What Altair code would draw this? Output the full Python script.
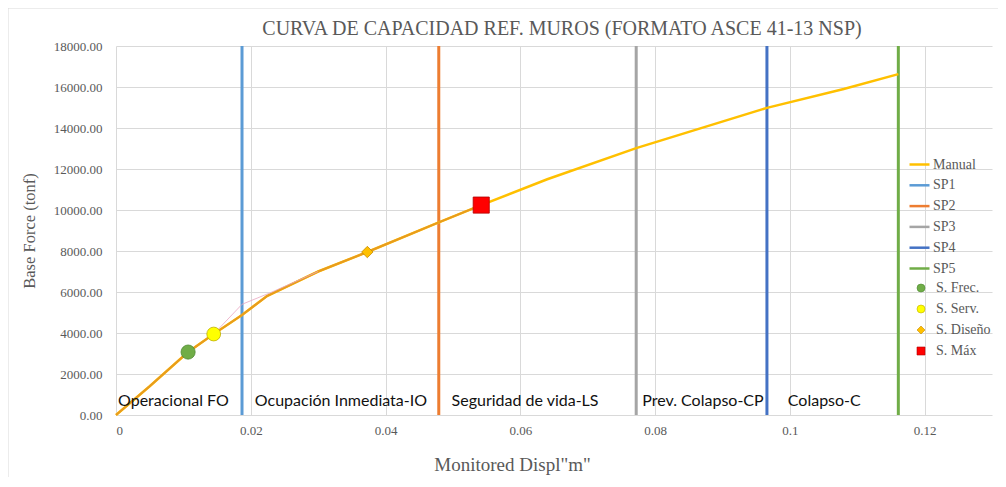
import altair as alt
import pandas as pd

# ---- data ----
manual_x = [0, 0.005, 0.0107, 0.0145, 0.0187, 0.0224, 0.0300, 0.0373, 0.0479, 0.0542, 0.0640, 0.0772, 0.0966, 0.1080, 0.1161]
manual_y = [0, 1400, 3070, 3950, 4880, 5800, 7000, 7950, 9400, 10240, 11500, 13020, 14980, 15900, 16630]
n_orange = 10  # orange overlay runs from the origin up to the S. Máx point

pink_x = [0.0145, 0.0187, 0.0228, 0.0300]
pink_y = [3950, 5400, 5950, 7000]

sp_names = ["SP1", "SP2", "SP3", "SP4", "SP5"]
sp_x = [0.0187, 0.0479, 0.0772, 0.0966, 0.1161]

pt_names = ["S. Frec.", "S. Serv.", "S. Diseño", "S. Máx"]
pt_x = [0.0107, 0.0145, 0.0373, 0.0542]
pt_y = [3070, 3950, 7950, 10240]

zone_names = ["Operacional FO", "Ocupación Inmediata-IO", "Seguridad de vida-LS", "Prev. Colapso-CP", "Colapso-C"]
zone_x = [0.0003, 0.0206, 0.0498, 0.0781, 0.0997]
zone_y = [700, 700, 700, 700, 700]

x_ticks = [0, 0.02, 0.04, 0.06, 0.08, 0.10, 0.12]
y_ticks = [0, 2000, 4000, 6000, 8000, 10000, 12000, 14000, 16000, 18000]

line_domain = ["Manual"] + sp_names
line_colors = ["#FFC000", "#5B9BD5", "#ED7D31", "#A5A5A5", "#4472C4", "#70AD47"]
pt_fill = ["#70AD47", "#FFFF00", "#FFC000", "#FF0000"]
pt_stroke = ["#4E8A32", "#BFAE00", "#C58A00", "#B00000"]
pt_shape = ["circle", "circle", "diamond", "square"]
pt_size = [200, 190, 130, 260]

# ---- tables ----
manual_df = pd.DataFrame({"x": manual_x, "y": manual_y, "serie": "Manual"})
orange_df = pd.DataFrame({"x": manual_x[:n_orange], "y": manual_y[:n_orange]})
pink_df = pd.DataFrame({"x": pink_x, "y": pink_y})
sp_df = pd.DataFrame({"x": sp_x, "serie": sp_names})
pt_df = pd.DataFrame({"x": pt_x, "y": pt_y, "punto": pt_names})
zone_df = pd.DataFrame({"x": zone_x, "y": zone_y, "label": zone_names})

SERIF = "Liberation Serif"
GRAY = "#595959"

xscale = alt.Scale(domain=[0, 0.13], nice=False, zero=True)
yscale = alt.Scale(domain=[0, 18000], nice=False)

xenc = alt.X("x:Q", scale=xscale,
             axis=alt.Axis(values=x_ticks, format=".2~f", title='Monitored Displ"m"',
                           labelPadding=9, titlePadding=18, titleFontSize=19, titleX=396))
yenc = alt.Y("y:Q", scale=yscale,
             axis=alt.Axis(values=y_ticks, format=".2f", title="Base Force (tonf)",
                           labelPadding=14, titlePadding=16, titleFontSize=16.5))

color_scale = alt.Scale(domain=line_domain, range=line_colors)
line_legend = alt.Legend(title=None, orient="none", legendX=792, legendY=107,
                         symbolType="stroke", symbolSize=400, symbolStrokeWidth=2.5,
                         labelFont=SERIF, labelFontSize=14, labelColor=GRAY,
                         labelOffset=2, rowPadding=1.8)

manual = alt.Chart(manual_df).mark_line(strokeWidth=2.5).encode(
    x=xenc, y=yenc,
    color=alt.Color("serie:N", scale=color_scale, legend=line_legend),
)
orange = alt.Chart(orange_df).mark_line(strokeWidth=2, color="#E89B1E").encode(x="x:Q", y="y:Q")
pink = alt.Chart(pink_df).mark_line(strokeWidth=1, color="#E9A6C0", opacity=0.8).encode(x="x:Q", y="y:Q")

rules = alt.Chart(sp_df).mark_rule(strokeWidth=3).encode(
    x="x:Q",
    color=alt.Color("serie:N", scale=color_scale, legend=line_legend),
)

pt_legend = alt.Legend(title=None, orient="none", legendX=798, legendY=235,
                       symbolSize=64, labelFont=SERIF, labelFontSize=14, labelColor=GRAY,
                       labelOffset=8, rowPadding=7, symbolStrokeWidth=0.6)
fill_scale = alt.Scale(domain=pt_names, range=pt_fill)
stroke_scale = alt.Scale(domain=pt_names, range=pt_stroke)
shape_scale = alt.Scale(domain=pt_names, range=pt_shape)

point_layers = []
for name, s in zip(pt_names, pt_size):
    point_layers.append(
        alt.Chart(pt_df).transform_filter(alt.datum.punto == name)
        .mark_point(filled=True, opacity=1, strokeWidth=0.8, size=s).encode(
            x="x:Q", y="y:Q",
            fill=alt.Fill("punto:N", scale=fill_scale, legend=pt_legend),
            stroke=alt.Stroke("punto:N", scale=stroke_scale, legend=pt_legend),
            shape=alt.Shape("punto:N", scale=shape_scale, legend=pt_legend),
        )
    )

zones = alt.Chart(zone_df).mark_text(align="left", baseline="middle", font="Lato",
                                     fontSize=16, color="#111111").encode(
    x="x:Q", y="y:Q", text="label:N"
)

border = alt.Chart(pd.DataFrame({"a": [0]})).mark_rect(fill=None, stroke="#D9D9D9", strokeWidth=1).encode(
    x=alt.value(-108), x2=alt.value(884), y=alt.value(-38), y2=alt.value(445)
)

chart = alt.layer(border, rules, manual, orange, pink, *point_layers, zones).resolve_scale(
    color="shared"
).properties(
    width=876, height=369,
    title=alt.TitleParams("CURVA DE CAPACIDAD REF. MUROS (FORMATO ASCE 41-13 NSP)",
                          font=SERIF, fontSize=20, fontWeight="normal", color=GRAY,
                          offset=-31, frame="group", anchor="middle", dx=8),
    autosize=alt.AutoSizeParams(type="none"),
    padding={"left": 108, "top": 38, "right": 6, "bottom": 62},
).configure_view(stroke=None).configure_axis(
    grid=True, gridColor="#D9D9D9", gridWidth=1, domain=False, ticks=False,
    labelFont=SERIF, labelFontSize=13, labelColor=GRAY,
    titleFont=SERIF, titleColor=GRAY, titleFontWeight="normal",
)

chart.save("out.html", embed_options={"renderer": "svg", "actions": False})
